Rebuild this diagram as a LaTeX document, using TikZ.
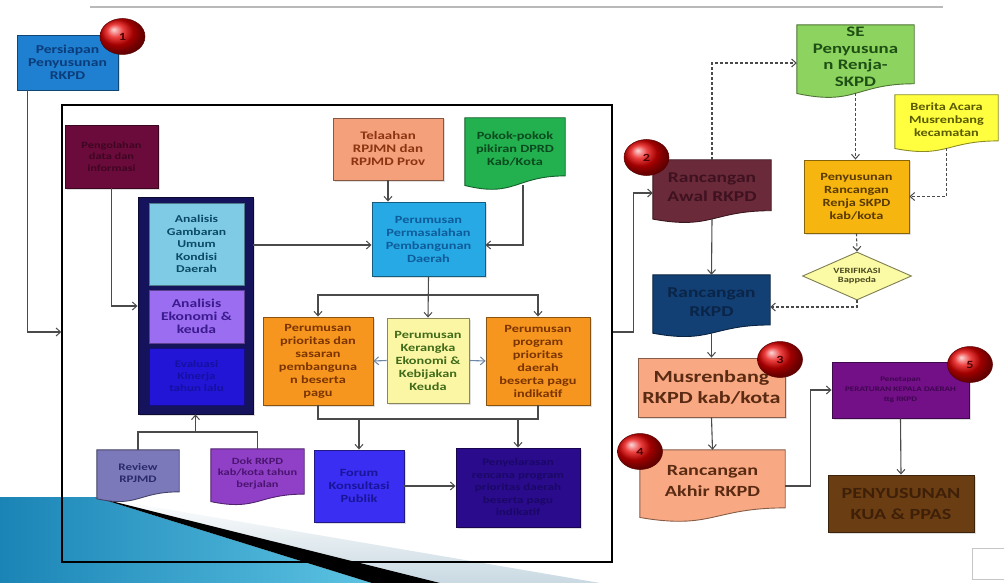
\documentclass[tikz,border=0pt]{standalone}
\usepackage{fontspec}
\setmainfont{Carlito}[FakeStretch=1.3]
\usetikzlibrary{shapes.geometric,arrows.meta,shadows,backgrounds,calc}

% box fills and their text colours
\definecolor{cPersiapan}{HTML}{1F7FD1}\definecolor{tPersiapan}{HTML}{0B3D7A}
\definecolor{cOlah}{HTML}{6B0B3B}\definecolor{tOlah}{HTML}{3E0522}
\definecolor{cNavy}{HTML}{15135C}
\definecolor{cGamb}{HTML}{7FCBE5}\definecolor{tGamb}{HTML}{0B4A66}
\definecolor{cEko}{HTML}{9B6DF0}\definecolor{tEko}{HTML}{3B1A8F}
\definecolor{cEval}{HTML}{2315D6}\definecolor{tEval}{HTML}{1410A0}
\definecolor{cTelaah}{HTML}{F4A07B}\definecolor{tTelaah}{HTML}{8C3412}
\definecolor{cPokir}{HTML}{23B04F}\definecolor{tPokir}{HTML}{0A4A1E}
\definecolor{cPerm}{HTML}{27A9E6}\definecolor{tPerm}{HTML}{0E5C99}
\definecolor{cPrio}{HTML}{F7961E}\definecolor{tPrio}{HTML}{7A3400}
\definecolor{cKer}{HTML}{FBF6A3}\definecolor{tKer}{HTML}{3F6B1A}
\definecolor{cForum}{HTML}{3A2EF2}\definecolor{tForum}{HTML}{1A1499}
\definecolor{cPenyel}{HTML}{2A0B8C}\definecolor{tPenyel}{HTML}{1A0766}
\definecolor{cReview}{HTML}{7C79BA}\definecolor{tReview}{HTML}{2A2A6A}
\definecolor{cDok}{HTML}{9040C6}\definecolor{tDok}{HTML}{4A1470}
\definecolor{cAwal}{HTML}{6B2A3A}\definecolor{tAwal}{HTML}{3E1220}
\definecolor{cRkpd}{HTML}{123F74}\definecolor{tRkpd}{HTML}{0A2548}
\definecolor{cSE}{HTML}{8DD35F}\definecolor{tSE}{HTML}{1E4F14}
\definecolor{cBerita}{HTML}{FFFF40}\definecolor{tBerita}{HTML}{5A5A00}
\definecolor{cRenja}{HTML}{F6B60F}\definecolor{tRenja}{HTML}{5A3A00}
\definecolor{cVerif}{HTML}{FCFBA5}\definecolor{tVerif}{HTML}{4A4A20}
\definecolor{cMusren}{HTML}{F8A983}\definecolor{tMusren}{HTML}{5A2A12}
\definecolor{cPenetap}{HTML}{730F87}\definecolor{tPenetap}{HTML}{3F0650}
\definecolor{cKua}{HTML}{6B3D13}\definecolor{tKua}{HTML}{3E2008}
\definecolor{linkgray}{HTML}{4A4A4A}
\definecolor{slate}{HTML}{6F87A6}
\definecolor{decoA}{HTML}{1A84B6}
\definecolor{decoB}{HTML}{5CC3E2}
\definecolor{decoC}{HTML}{C9D9E2}

\tikzset{
  fs/.style 2 args={font=\bfseries\fontsize{#1}{#2}\selectfont},
  bx/.style={rectangle, draw=#1!55!black, fill=#1, line width=0.9pt, align=center, inner sep=1pt,
    drop shadow={opacity=0.25, shadow xshift=1.5pt, shadow yshift=-1.5pt}},
  sect/.style={rectangle, draw=#1!60!black, fill=#1, line width=0.6pt, align=center, inner sep=1pt},
  doctext/.style={rectangle, align=center, inner sep=1pt},
  link/.style={draw=linkgray, line width=1.1pt},
  arr/.style={link, -{Straight Barb[length=4.5pt,width=8pt,line width=1pt]}},
  darr/.style={arr, dash pattern=on 3pt off 2pt},
  sidearr/.style={arr, draw=slate},
  numball/.style={ellipse, minimum width=45pt, minimum height=36pt, inner sep=0pt,
    ball color=red!90!black, draw=red!35!black, line width=0.5pt, text=red!30!black, fs={11}{12}},
}

% flowchart "document" outline behind a node: wavy bottom edge
\newcommand\docshape[3]{%
  \fill[#2, draw=#3, line width=0.9pt] let \p1=(#1.north west), \p2=(#1.south east), \n1={\y1-\y2} in
    (\x1,\y1) -- (\x2,\y1) -- (\x2,{\y2+0.078*\n1})
    .. controls ({0.5*(\x1+\x2)},{\y2+0.078*\n1}) and ({0.5*(\x1+\x2)},{\y2-0.272*\n1}) ..
    (\x1,{\y2-0.074*\n1}) -- cycle;}

\begin{document}
\begin{tikzpicture}[x=1pt,y=-1pt]
\useasboundingbox (0,0) rectangle (1004,583);

\begin{pgfonlayer}{background}
  \fill[white] (0,0) rectangle (1004,583);
  % slide decoration, lower left
  \shade[top color=white, bottom color=decoC] (95,497) -- (600,583) -- (372,583) -- cycle;
  \shade[left color=decoA, right color=decoB] (0,497) -- (95,497) -- (372,583) -- (0,583) -- cycle;
  \fill[black] (95,497) -- (440,583) -- (372,583) -- cycle;
\end{pgfonlayer}

% slide header rule
\draw[gray!55, line width=1.8pt] (90,7) -- (943,7);

% outer frame of the planning stage
\node[draw=black, line width=1.4pt, minimum width=550pt, minimum height=457pt, inner sep=0pt] (frame) at (337,333.5) {};

\node[bx=cPersiapan, text=tPersiapan, fs={12}{13}, minimum width=101pt, minimum height=55pt] (persiapan) at (67.5,62.5) {Persiapan\\Penyusunan\\RKPD};

\node[bx=cOlah, text=tOlah, fs={9.5}{11.5}, minimum width=93pt, minimum height=63pt] (olah) at (111.5,156.5) {Pengolahan\\data dan\\informasi};

% analysis column
\node[bx=cNavy, minimum width=115pt, minimum height=217pt] (navy) at (195.5,305.5) {};
\node[sect=cGamb, text=tGamb, fs={10.5}{12.5}, minimum width=95pt, minimum height=82pt] (gambaran) at (196.5,244) {Analisis\\Gambaran\\Umum\\Kondisi\\Daerah};
\node[sect=cEko, text=tEko, fs={12}{13}, minimum width=95pt, minimum height=53pt] (ekonomi) at (196.5,316.5) {Analisis\\Ekonomi \&\\keuda};
\node[sect=cEval, text=tEval, fs={10}{12}, minimum width=95pt, minimum height=57pt] (evaluasi) at (196.5,376.5) {Evaluasi\\Kinerja\\tahun lalu};

\node[bx=cTelaah, text=tTelaah, fs={11.5}{13}, minimum width=110pt, minimum height=62pt] (telaah) at (388,149) {Telaahan\\RPJMN dan\\RPJMD Prov};
\node[doctext, text=tPokir, fs={11}{13}, minimum width=100pt, minimum height=62.6pt] (pokir) at (515,149.3) {Pokok-pokok\\pikiran DPRD\\Kab/Kota};

\node[bx=cPerm, text=tPerm, fs={11}{13}, minimum width=113pt, minimum height=74pt] (perm) at (428.5,239) {Perumusan\\Permasalahan\\Pembangunan\\Daerah};

\node[bx=cPrio, text=tPrio, fs={11}{13}, minimum width=110pt, minimum height=88pt] (prio) at (318,361) {Perumusan\\prioritas dan\\sasaran\\pembanguna\\n beserta\\pagu};
\node[bx=cKer, text=tKer, fs={11}{13}, minimum width=82pt, minimum height=85pt] (kerangka) at (428,360.5) {Perumusan\\Kerangka\\Ekonomi \&\\Kebijakan\\Keuda};
\node[bx=cPrio, text=tPrio, fs={11}{13}, minimum width=104pt, minimum height=88pt] (program) at (538,361) {Perumusan\\program\\prioritas\\daerah\\beserta pagu\\indikatif};

\node[bx=cForum, text=tForum, fs={11}{13}, minimum width=90pt, minimum height=72pt] (forum) at (359,486) {Forum\\Konsultasi\\Publik};
\node[bx=cPenyel, text=tPenyel, fs={10}{12.5}, minimum width=124pt, minimum height=79pt] (penyel) at (518,487.5) {Penyelarasan\\rencana program\\prioritas daerah\\beserta pagu\\indikatif};

\node[doctext, text=tReview, fs={10}{12}, minimum width=82pt, minimum height=45.2pt] (review) at (138,472.6) {Review\\RPJMD};
\node[doctext, text=tDok, fs={9.5}{11.5}, minimum width=93pt, minimum height=48.7pt] (dok) at (257.5,473.4) {Dok RKPD\\kab/kota tahun\\berjalan};

% right-hand stages
\node[doctext, text=tAwal, fs={15}{19}, minimum width=118pt, minimum height=54.8pt] (awal) at (712,187.4) {Rancangan\\Awal RKPD};
\node[doctext, text=tRkpd, fs={15}{19}, minimum width=117pt, minimum height=54pt] (rkpd) at (711.5,302) {Rancangan\\RKPD};
\node[doctext, text=tSE, fs={14.5}{16.5}, minimum width=117pt, minimum height=63.5pt] (se) at (855.5,56.8) {SE\\Penyusuna\\n Renja-\\SKPD};
\node[doctext, text=tBerita, fs={11}{13}, minimum width=103pt, minimum height=49.6pt] (berita) at (946.5,119.8) {Berita Acara\\Musrenbang\\kecamatan};
\node[bx=cRenja, text=tRenja, fs={11}{13}, minimum width=105pt, minimum height=73pt] (renja) at (856.5,196.5) {Penyusunan\\Rancangan\\Renja SKPD\\kab/kota};
\node[diamond, aspect=2.27, draw=cVerif!50!black, fill=cVerif, line width=0.9pt, inner sep=0pt, align=center, text=tVerif, fs={8}{9.5}, minimum width=109pt, minimum height=48pt] (verif) at (857,276) {VERIFIKASI\\Bappeda};
\node[bx=cMusren, text=tMusren, fs={17}{21.5}, minimum width=147pt, minimum height=59pt] (musren) at (711.5,387.5) {Musrenbang\\RKPD kab/kota};
\node[doctext, text=tMusren, fs={15.5}{21}, minimum width=145pt, minimum height=62.6pt] (akhir) at (712.5,481.3) {Rancangan\\Akhir RKPD};
\node[bx=cPenetap, text=tPenetap, fs={7}{10}, minimum width=137pt, minimum height=56pt] (penetap) at (900.5,390) {Penetapan\\PERATURAN KEPALA DAERAH\\ttg RKPD};
\node[bx=cKua, text=tKua, fs={15.5}{21}, minimum width=146pt, minimum height=57pt] (kua) at (901,503.5) {PENYUSUNAN\\KUA \& PPAS};

% slide number holder
\node[draw=gray!45, line width=1pt, minimum width=34pt, minimum height=31pt, inner sep=0pt] (pagebox) at (989,564) {};

% document outlines drawn underneath their texts
\begin{pgfonlayer}{background}
  \docshape{pokir}{cPokir}{cPokir!55!black}
  \docshape{review}{cReview}{cReview!55!black}
  \docshape{dok}{cDok}{cDok!55!black}
  \docshape{awal}{cAwal}{cAwal!55!black}
  \docshape{rkpd}{cRkpd}{cRkpd!55!black}
  \docshape{se}{cSE}{cSE!55!black}
  \docshape{berita}{cBerita}{cBerita!55!black}
  \docshape{akhir}{cMusren}{cMusren!55!black}
\end{pgfonlayer}

% connectors inside the frame
\draw[arr] ([xshift=11pt]persiapan.south west) |- (frame.west |- 0,332);
\draw[arr] (olah.south) |- (navy.west |- 0,306);
\draw[arr] (navy.east |- 0,245) -- (perm.west |- 0,245);
\draw[arr] (telaah.south) -- (telaah.south |- perm.north);
\draw[arr] ([xshift=8pt,yshift=-4pt]pokir.south) |- (perm.east |- 0,245);
\draw[arr] (perm.south) -- (kerangka.north);
\draw[arr] (perm.south |- 0,295) -| (prio.north);
\draw[arr] (perm.south |- 0,295) -| (program.north);
\draw[sidearr] (kerangka.west) -- (prio.east);
\draw[sidearr] (kerangka.east) -- (program.west);
\draw[link] (prio.south) |- (program.south |- 0,419) -- (program.south);
\draw[arr] (forum.north |- 0,419) -- (forum.north);
\draw[arr] (penyel.north |- 0,419) -- (penyel.north);
\draw[arr] (forum.east) -- (forum.east -| penyel.west);
\draw[link] ([yshift=0pt]review.north) |- (dok.north |- 0,432) -- (dok.north);
\draw[arr] (navy.south |- 0,432) -- (navy.south);

% connectors on the right
\draw[arr] (frame.east |- 0,332) -- ++(21,0) |- (awal.west |- 0,193);
\draw[arr] ([yshift=-4pt]awal.south) -- (rkpd.north);
\draw[arr] ([yshift=-4pt]rkpd.south) -- (musren.north);
\draw[arr] (musren.south) -- (akhir.north);
\draw[arr] (akhir.east |- 0,486) -- ++(25,0) |- (penetap.west);
\draw[arr] (penetap.south) -- (kua.north);
\draw[darr] (awal.north) |- (se.west |- 0,63);
\draw[darr] ([yshift=-4pt]se.south) -- (se.south |- renja.north);
\draw[darr] ([yshift=-3pt]berita.south) |- (renja.east);
\draw[darr] (renja.south) -- (verif.north);
\draw[darr] (verif.south) |- (rkpd.east |- 0,307);

% numbered stage markers
\node[numball] (n1) at (122.5,36.5) {1};
\node[numball] (n2) at (646.5,157.5) {2};
\node[numball] (n3) at (780,359.5) {3};
\node[numball] (n4) at (640,451.5) {4};
\node[numball] (n5) at (970,364.5) {5};
\end{tikzpicture}
\end{document}
